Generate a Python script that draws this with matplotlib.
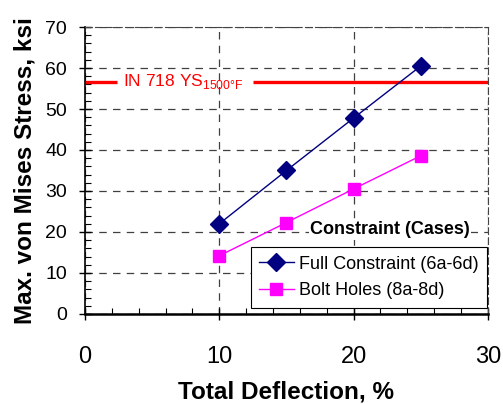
import matplotlib
matplotlib.use("Agg")
import matplotlib.pyplot as plt
from matplotlib.ticker import MultipleLocator

plt.rcParams['font.family'] = ['Liberation Sans', 'DejaVu Sans']

# data
deflection = [10, 15, 20, 25]
full_constraint = [22.0, 35.0, 47.8, 60.5]
bolt_holes = [14.2, 22.3, 30.5, 38.6]
ys_limit = 56.7

fig = plt.figure(figsize=(5.03, 4.04), dpi=100)
ax = fig.add_axes([0.169, 0.223, 0.801, 0.710])

ax.set_xlim(0, 30)
ax.set_ylim(0, 70)
ax.xaxis.set_major_locator(MultipleLocator(10))
ax.xaxis.set_minor_locator(MultipleLocator(2))
ax.yaxis.set_major_locator(MultipleLocator(10))
ax.yaxis.set_minor_locator(MultipleLocator(2))

ax.grid(True, which='major', color='black', linestyle=(0, (6, 5)), linewidth=0.9, alpha=0.75)
ax.set_axisbelow(True)

# yield strength line, broken around its label
ax.hlines([ys_limit, ys_limit], [0, 12.5], [2.4, 30], color='#ff0000', linewidth=2.4, zorder=2)
ax.text(2.8, ys_limit, r'IN 718 YS$_{\mathregular{1500°F}}$', color='#ff0000', fontsize=12.5,
        va='center', ha='left', zorder=3)

ax.plot(deflection, full_constraint, color='#000080', marker='D', markersize=9,
        linewidth=1, label='Full Constraint (6a-6d)', zorder=4)
ax.plot(deflection, bolt_holes, color='#ff00ff', marker='s', markersize=8.5,
        linewidth=1, label='Bolt Holes (8a-8d)', zorder=4)

leg = ax.legend(loc='lower right', bbox_to_anchor=(0.998, 0.022), fontsize=13,
                frameon=True, fancybox=False, edgecolor='black', framealpha=1,
                borderpad=0.45, labelspacing=0.55, handlelength=1.95, handletextpad=0.3,
                borderaxespad=0)
leg.get_frame().set_linewidth(0.8)
leg.set_zorder(5)
ax.text(0.955, 0.293, 'Constraint (Cases)', transform=ax.transAxes, fontsize=13,
        fontweight='bold', ha='right', va='center', zorder=5,
        bbox=dict(facecolor='white', edgecolor='none', pad=1))

for side in ['top', 'right']:
    ax.spines[side].set_linestyle((0, (6, 3)))
    ax.spines[side].set_color('#444444')
ax.spines['left'].set_linewidth(1.2)
ax.spines['bottom'].set_linewidth(1.8)

ax.tick_params(which='major', direction='inout', length=8, width=1)
ax.tick_params(which='minor', direction='in', length=4, width=0.8)
ax.tick_params(axis='x', which='major', labelsize=17, pad=19)
ax.tick_params(axis='y', which='major', labelsize=14, pad=9)

ax.set_xlabel('Total Deflection, %', fontsize=17.5, fontweight='bold', labelpad=9)
ax.set_ylabel('Max. von Mises Stress, ksi', fontsize=17.5, fontweight='bold', labelpad=6)

fig.savefig('out.png', dpi=100)
